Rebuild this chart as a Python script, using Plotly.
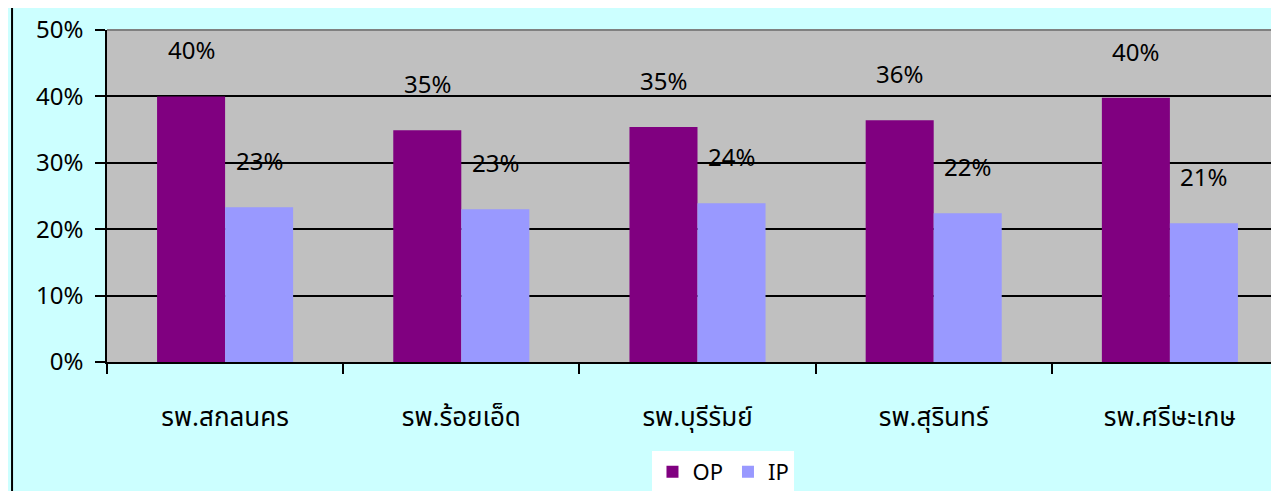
import plotly.graph_objects as go

categories = ["รพ.สกลนคร", "รพ.ร้อยเอ็ด", "รพ.บุรีรัมย์", "รพ.สุรินทร์", "รพ.ศรีษะเกษ"]
op_values = [0.400, 0.349, 0.354, 0.364, 0.398]
ip_values = [0.233, 0.230, 0.239, 0.224, 0.209]
y_ticks = [0, 0.1, 0.2, 0.3, 0.4, 0.5]

FONT = "Noto Sans Thai, Noto Sans, DejaVu Sans, sans-serif"

fig = go.Figure()
fig.add_trace(go.Bar(name="OP", x=categories, y=op_values, marker=dict(color="#800080", line=dict(width=0))))
fig.add_trace(go.Bar(name="IP", x=categories, y=ip_values, marker=dict(color="#9999FF", line=dict(width=0))))

annotations = []
for c, v in zip(categories, op_values):
    annotations.append(dict(x=c, y=v, xref="x", yref="y", text=f"{v:.0%}", showarrow=False,
                            xshift=-34, yshift=44, font=dict(size=24, color="black", family=FONT)))
for c, v in zip(categories, ip_values):
    annotations.append(dict(x=c, y=v, xref="x", yref="y", text=f"{v:.0%}", showarrow=False,
                            xshift=34, yshift=44, font=dict(size=24, color="black", family=FONT)))

fig.update_layout(
    width=1280, height=491,
    margin=dict(l=99, r=0, t=22, b=137),
    paper_bgcolor="#CCFFFF",
    plot_bgcolor="#C0C0C0",
    barmode="group", bargap=0.424, bargroupgap=0,
    font=dict(family=FONT, size=22, color="black"),
    showlegend=True,
    legend=dict(orientation="h", x=0.522, xanchor="center", y=-0.268, yanchor="top",
                bgcolor="white", font=dict(size=22), itemwidth=30, traceorder="normal"),
    annotations=annotations,
    shapes=[
        dict(type="line", xref="paper", yref="paper", x0=-0.0804, x1=-0.0804, y0=-1, y1=2,
             line=dict(color="black", width=2)),
        dict(type="line", xref="paper", yref="paper", x0=0, x1=1, y0=1, y1=1,
             line=dict(color="#808080", width=2)),
    ],
)
fig.update_xaxes(
    range=[-0.5, 4.5], showline=True, linecolor="black", linewidth=1.5,
    ticks="outside", tickson="boundaries", ticklen=10, tickcolor="black", tickwidth=1.5,
    ticklabelstandoff=31, tickfont=dict(size=26), showgrid=False,
)
fig.update_yaxes(
    range=[0, 0.5], tickvals=y_ticks, tickformat=".0%",
    showline=True, linecolor="black", linewidth=1.5,
    ticks="outside", ticklen=10, tickcolor="black", tickwidth=1.5,
    showgrid=True, gridcolor="black", gridwidth=1.5, zeroline=False,
    ticklabelstandoff=7, tickfont=dict(size=24),
)

fig.write_html("out.html")
